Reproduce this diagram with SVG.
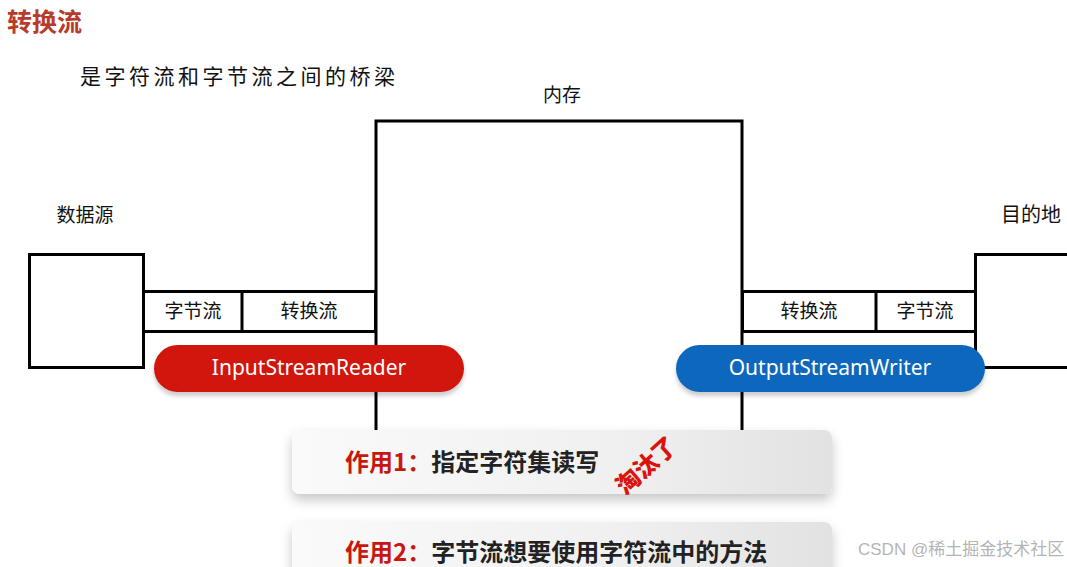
<svg xmlns="http://www.w3.org/2000/svg" width="1067" height="567" viewBox="0 0 1067 567">
<style>
.cjk{font-family:"Noto Sans CJK SC","Noto Sans",sans-serif;fill:#111}
.ln{stroke:#000;stroke-width:3;fill:none}
.box{stroke:#000;stroke-width:3;fill:#fff}
.pilltxt{font-family:"Noto Sans","Noto Sans CJK SC",sans-serif;font-size:21px;fill:#fff;text-anchor:middle}
.card{fill:url(#cardg);filter:url(#sh)}
.cardtxt{font-family:"Noto Sans CJK SC",sans-serif;font-size:24px;font-weight:bold}
.wm{font-family:"Liberation Sans","Noto Sans CJK SC",sans-serif;font-size:17px;fill:#a0a0a0;fill-opacity:0.8}
</style>
<defs>
<linearGradient id="cardg" x1="0" y1="0" x2="1" y2="0">
<stop offset="0" stop-color="#fafafa"/><stop offset="0.6" stop-color="#f0f0f0"/><stop offset="1" stop-color="#e2e2e2"/>
</linearGradient>
<filter id="sh" x="-10%" y="-40%" width="120%" height="200%">
<feDropShadow dx="0" dy="6" stdDeviation="6" flood-color="#000" flood-opacity="0.22"/>
</filter>
<filter id="psh" x="-10%" y="-30%" width="120%" height="170%">
<feDropShadow dx="0" dy="4" stdDeviation="2" flood-color="#000" flood-opacity="0.2"/>
</filter>
</defs>
<rect width="1067" height="567" fill="#fff"/>
<g id="title">
<text x="7" y="31" font-family="Noto Sans CJK SC,sans-serif" font-size="25" font-weight="bold" fill="#b83a2a">转换流</text>
<text x="80" y="84" class="cjk" font-size="21" letter-spacing="3.5">是字符流和字节流之间的桥梁</text>
</g>
<g id="connectors">
<polyline class="ln" points="376,430 376,121 742,121 742,430"/>
</g>
<g id="memory">
<text x="562" y="102" class="cjk" font-size="19" text-anchor="middle">内存</text>
</g>
<g id="source">
<text x="85" y="222" class="cjk" font-size="19" text-anchor="middle">数据源</text>
<rect class="box" x="29.5" y="254.5" width="114" height="113"/>
</g>
<g id="left-streams">
<rect class="box" x="143.5" y="291.5" width="232" height="40"/>
<line class="ln" x1="242" y1="291" x2="242" y2="331"/>
<text x="193" y="318" class="cjk" font-size="19" text-anchor="middle">字节流</text>
<text x="309" y="318" class="cjk" font-size="19" text-anchor="middle">转换流</text>
</g>
<g id="dest">
<text x="1031" y="222" class="cjk" font-size="20" text-anchor="middle">目的地</text>
<rect class="box" x="975.5" y="254.5" width="100" height="113"/>
</g>
<g id="right-streams">
<rect class="box" x="742.5" y="291.5" width="233" height="40"/>
<line class="ln" x1="876" y1="291" x2="876" y2="331"/>
<text x="809" y="318" class="cjk" font-size="19" text-anchor="middle">转换流</text>
<text x="925" y="318" class="cjk" font-size="19" text-anchor="middle">字节流</text>
</g>
<g id="isr">
<rect x="154" y="345" width="310" height="47" rx="23.5" fill="#d0190c" filter="url(#psh)"/>
<text x="309" y="375" class="pilltxt">InputStreamReader</text>
</g>
<g id="osw">
<rect x="676" y="345" width="309" height="47" rx="23.5" fill="#0b68bd" filter="url(#psh)"/>
<text x="830" y="375" class="pilltxt">OutputStreamWriter</text>
</g>
<g id="card1">
<rect class="card" x="292" y="430" width="540" height="64" rx="8"/>
<text x="345" y="471" class="cardtxt"><tspan fill="#c8170e">作用1：</tspan><tspan fill="#222">指定字符集读写</tspan></text>
<text transform="translate(652,472) rotate(-42)" font-family="Noto Sans CJK SC,sans-serif" font-size="24" font-weight="900" fill="#d8140c" text-anchor="middle">淘汰了</text>
</g>
<g id="card2">
<rect class="card" x="292" y="522" width="540" height="64" rx="8"/>
<text x="345" y="561" class="cardtxt"><tspan fill="#c8170e">作用2：</tspan><tspan fill="#222">字节流想要使用字符流中的方法</tspan></text>
</g>
<g id="watermark">
<text x="858" y="555" class="wm">CSDN @稀土掘金技术社区</text>
</g>
</svg>
